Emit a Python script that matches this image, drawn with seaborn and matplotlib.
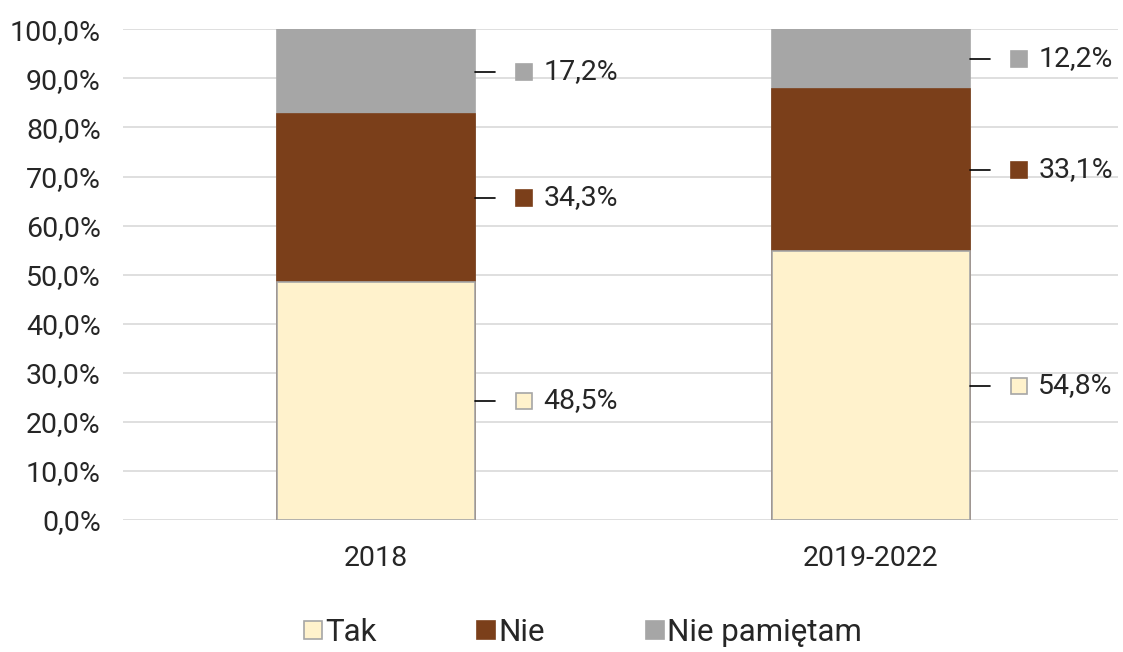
import numpy as np
import pandas as pd
import matplotlib

matplotlib.use('Agg')
import matplotlib.pyplot as plt
import seaborn as sns
from matplotlib.ticker import FuncFormatter
from matplotlib.lines import Line2D

periods = ['2018', '2019-2022']
answers = ['Tak', 'Nie', 'Nie pamiętam']
tak = [48.5, 54.8]
nie = [34.3, 33.1]
nie_pam = [17.2, 12.2]

colors = {'Tak': '#FFF2CC', 'Nie': '#7B3F1A', 'Nie pamiętam': '#A6A6A6'}
edges = {'Tak': '#A6A6A6', 'Nie': '#7B3F1A', 'Nie pamiętam': '#A6A6A6'}
FS = 20.5


def plot():
    sns.set_style('white')
    plt.rcParams['font.family'] = ['Roboto', 'DejaVu Sans']

    values = {'Tak': tak, 'Nie': nie, 'Nie pamiętam': nie_pam}
    df = pd.DataFrame(values, index=periods)
    cum = df.cumsum(axis=1)

    fig = plt.figure(figsize=(11.23, 6.52), dpi=100)
    ax = fig.add_axes([0.1095, 0.2025, 0.886, 0.7525])

    # stacked bars: draw tallest cumulative layer first
    for ans in reversed(answers):
        sns.barplot(x=periods, y=cum[ans].values, color=colors[ans], width=0.4,
                    saturation=1, edgecolor=edges[ans], linewidth=1.2, ax=ax)

    ax.set_ylim(0, 100)
    ax.set_xlim(-0.511, 1.499)
    ax.set_yticks(np.arange(0, 101, 10))
    ax.yaxis.set_major_formatter(FuncFormatter(lambda v, p: f'{v:.1f}%'.replace('.', ',')))
    ax.grid(axis='y', color='#D9D9D9', linewidth=1.2)
    ax.set_axisbelow(True)
    for s in ax.spines.values():
        s.set_visible(False)
    ax.tick_params(axis='both', length=0, labelsize=FS)
    ax.tick_params(axis='y', pad=16)
    ax.tick_params(axis='x', pad=18)
    ax.set_xlabel('')
    ax.set_ylabel('')

    # leader lines + labels
    for i, p in enumerate(periods):
        bottom = 0
        for ans in answers:
            v = df.loc[p, ans]
            mid = bottom + v / 2
            bottom += v
            x0 = i + 0.2
            ax.plot([x0, x0 + 0.04], [mid, mid], color='black', lw=1.2, clip_on=False)
            ax.plot([x0 + 0.099], [mid], marker='s', ms=11.5, color=colors[ans],
                    markeredgecolor=edges[ans], mew=1.2, clip_on=False)
            ax.text(x0 + 0.138, mid, f'{v:.1f}%'.replace('.', ','), va='center',
                    ha='left', fontsize=FS, clip_on=False)

    handles = [Line2D([], [], marker='s', ls='', ms=12.5, color=colors[a],
                      markeredgecolor=edges[a], mew=1.2) for a in answers]
    fig.legend(handles, answers, loc='lower center', ncol=3, frameon=False,
               fontsize=22.5, columnspacing=3.2, handlelength=0.6,
               handletextpad=0.1, bbox_to_anchor=(0.519, -0.035))

    fig.savefig('out.png', dpi=100)


if __name__ == '__main__':
    plot()
